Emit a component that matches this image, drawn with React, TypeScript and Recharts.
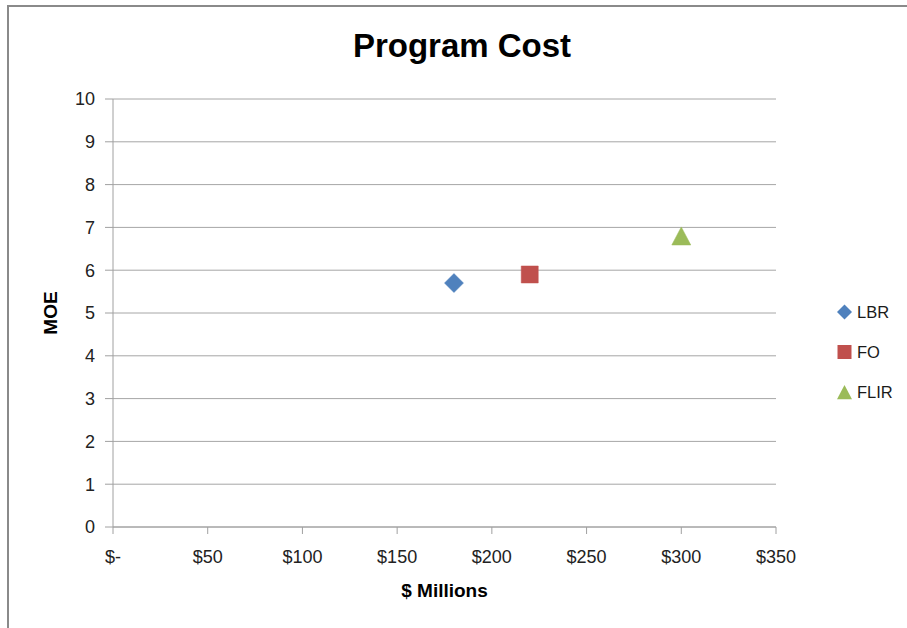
import React from 'react';
import { ScatterChart, Scatter, XAxis, YAxis, CartesianGrid, Legend } from 'recharts';

const seriesNames = ['LBR', 'FO', 'FLIR'];
const seriesColors = ['#4F81BD', '#C0504D', '#9BBB59'];
const seriesShapes = ['diamond', 'square', 'triangle'];
const costValues = [180, 220, 300];
const moeValues = [5.7, 5.9, 6.8];
const xTicks = [0, 50, 100, 150, 200, 250, 300, 350];
const yTicks = [0, 1, 2, 3, 4, 5, 6, 7, 8, 9, 10];

const FONT = '"Liberation Sans", Arial, sans-serif';

function markerPath(shape: string, cx: number, cy: number, s: number): string {
  if (shape === 'diamond') {
    return `M${cx},${cy - s} L${cx + s},${cy} L${cx},${cy + s} L${cx - s},${cy} Z`;
  }
  if (shape === 'square') {
    return `M${cx - s},${cy - s} L${cx + s},${cy - s} L${cx + s},${cy + s} L${cx - s},${cy + s} Z`;
  }
  const h = s * 0.95;
  return `M${cx},${cy - h} L${cx + s},${cy + h} L${cx - s},${cy + h} Z`;
}

const makeShape = (shape: string, color: string, s: number) => (props: any) => {
  const { cx, cy } = props;
  if (cx == null || cy == null) return <g />;
  return <path d={markerPath(shape, cx, cy, s)} fill={color} stroke={color} strokeWidth={0.5} />;
};

const markerSizes: Record<string, number> = { diamond: 9.5, square: 8.5, triangle: 9.5 };

const LegendContent = () => (
  <div style={{ fontFamily: FONT }}>
    {seriesNames.map((n, i) => (
      <div key={n} style={{ height: 40, display: 'flex', alignItems: 'center' }}>
        <svg width={18} height={18} style={{ display: 'block' }}>
          <path d={markerPath(seriesShapes[i], 8.5, 9, seriesShapes[i] === 'diamond' ? 7.5 : seriesShapes[i] === 'square' ? 7 : 7.5)} fill={seriesColors[i]} />
        </svg>
        <span style={{ fontSize: 16.5, color: '#1a1a1a', marginLeft: 3 }}>{n}</span>
      </div>
    ))}
  </div>
);

export default function App() {
  const seriesData = seriesNames.map((n, i) => [{ x: costValues[i], y: moeValues[i] }]);
  return (
    <div style={{ position: 'absolute', left: 0, top: 0, width: 907, height: 628, background: '#fff' }}>
      <div
        style={{
          position: 'absolute',
          left: 7,
          top: 5,
          right: 0,
          bottom: 0,
          borderLeft: '2px solid #8a8a8a',
          borderTop: '2px solid #8a8a8a',
        }}
      />
      <div
        style={{
          position: 'absolute',
          left: 262,
          width: 400,
          top: 27,
          textAlign: 'center',
          fontFamily: FONT,
          fontWeight: 'bold',
          fontSize: 33,
          color: '#000',
        }}
      >
        Program Cost
      </div>
      <div style={{ position: 'absolute', left: 0, top: 0 }}>
        <ScatterChart width={907} height={628} margin={{ top: 99, right: 131, bottom: 21, left: 0 }}>
          <CartesianGrid vertical={false} stroke="#a6a6a6" strokeWidth={1} />
          <XAxis
            type="number"
            dataKey="x"
            domain={[0, 350]}
            ticks={xTicks}
            allowDataOverflow
            height={80}
            tickSize={7}
            tickMargin={16}
            stroke="#a0a0a0"
            tick={{ fontSize: 18, fill: '#222', fontFamily: FONT }}
            tickFormatter={(v: number) => (v === 0 ? '$-' : `$${v}`)}
            label={{
              value: '$ Millions',
              position: 'insideBottom',
              offset: 10,
              style: { fontSize: 19, fontWeight: 'bold', fill: '#000', fontFamily: FONT },
            }}
          />
          <YAxis
            type="number"
            dataKey="y"
            domain={[0, 10]}
            ticks={yTicks}
            allowDataOverflow
            width={113}
            tickSize={8}
            tickMargin={10}
            stroke="#a0a0a0"
            tick={{ fontSize: 18, fill: '#222', fontFamily: FONT }}
            label={{
              value: 'MOE',
              content: (props: any) => {
                const vb = props.viewBox || { x: 0, y: 99, width: 113, height: 428 };
                const lx = vb.x + 50;
                const ly = vb.y + vb.height / 2;
                return (
                  <text
                    x={lx}
                    y={ly}
                    transform={`rotate(-90, ${lx}, ${ly})`}
                    textAnchor="middle"
                    dominantBaseline="central"
                    style={{ fontSize: 19, fontWeight: 'bold', fill: '#000', fontFamily: FONT }}
                  >
                    MOE
                  </text>
                );
              },
            }}
          />
          <Legend
            layout="vertical"
            align="center"
            verticalAlign="middle"
            content={<LegendContent />}
            wrapperStyle={{ left: 836, top: 292, width: 70 }}
          />
          {seriesNames.map((n, i) => (
            <Scatter
              key={n}
              name={n}
              data={seriesData[i]}
              fill={seriesColors[i]}
              isAnimationActive={false}
              shape={makeShape(seriesShapes[i], seriesColors[i], markerSizes[seriesShapes[i]])}
            />
          ))}
        </ScatterChart>
      </div>
    </div>
  );
}
